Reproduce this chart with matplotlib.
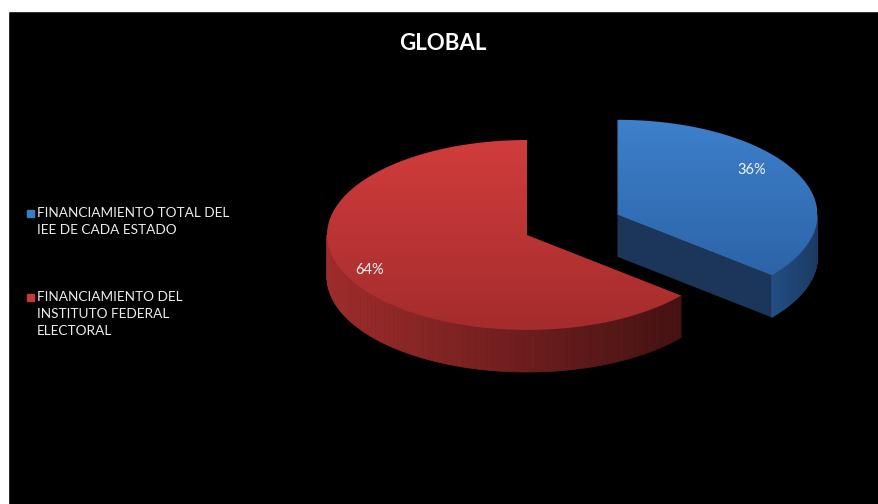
import numpy as np
import matplotlib.pyplot as plt
from matplotlib.patches import Polygon, Rectangle
from matplotlib.colors import to_rgb

# data
labels = ['FINANCIAMIENTO TOTAL DEL\nIEE DE CADA ESTADO',
          'FINANCIAMIENTO DEL\nINSTITUTO FEDERAL\nELECTORAL']
values = [36, 64]
explode = [0.5, 0.0]

# colours: top face (upper, lower), outer side (left, right), cut face
top_cols = [('#3d80cc', '#2d64a8'), ('#d13c3c', '#a52c2c')]
side_cols = [('#244f86', '#1b3a62'), ('#a02c2c', '#451212')]
cut_cols = ['#1c3659', '#3a1010']
legend_cols = ['#3b7bc6', '#c83838']

plt.rcParams['font.family'] = ['Lato', 'DejaVu Sans']

fig = plt.figure(figsize=(8.79, 5.04), dpi=100)
fig.patch.set_facecolor('black')
ax = fig.add_axes([0, 0, 1, 1])
ax.set_xlim(0, 879)
ax.set_ylim(504, 0)
ax.axis('off')
# white margins at top and left
ax.add_patch(Rectangle((-10, -10), 900, 21, color='white', zorder=0, clip_on=False))
ax.add_patch(Rectangle((-10, -10), 18, 530, color='white', zorder=0, clip_on=False))

# pie geometry in pixels
cx, cy = 527, 235
rx, ry = 200, 95
depth = 42


def pt(x0, y0, a, r=1.0):
    a = np.radians(a)
    return x0 + r * rx * np.cos(a), y0 - r * ry * np.sin(a)


def mix(c1, c2, t):
    c1, c2 = np.array(to_rgb(c1)), np.array(to_rgb(c2))
    return tuple(c1 + (c2 - c1) * t)


def grad_fill(poly, c_top, c_bot, z):
    xs, ys = poly[:, 0], poly[:, 1]
    g = np.linspace(0, 1, 64)[:, None, None]
    img = np.array(to_rgb(c_top)) * (1 - g) + np.array(to_rgb(c_bot)) * g
    img = np.repeat(img, 2, axis=1)
    p = Polygon(poly, closed=True, facecolor='none', edgecolor='none')
    ax.add_patch(p)
    im = ax.imshow(img, extent=[xs.min(), xs.max(), ys.max(), ys.min()],
                   aspect='auto', zorder=z, interpolation='bilinear')
    im.set_clip_path(p)


start = 90.0
slices = []
for i, v in enumerate(values):
    end = start - 360.0 * v / sum(values)
    mid = (start + end) / 2
    ox = explode[i] * rx * np.cos(np.radians(mid))
    oy = -explode[i] * ry * np.sin(np.radians(mid))
    slices.append((i, end, start, mid, cx + ox, cy + oy))
    start = end

# draw order: red (back) first then blue
for i, a0, a1, mid, x0, y0 in sorted(slices, key=lambda s: -s[0]):
    # cut face on the start side (visible for blue)
    if i == 0:
        px, py = pt(x0, y0, a0)
        face = np.array([[x0, y0], [px, py], [px, py + depth], [x0, y0 + depth]])
        ax.add_patch(Polygon(face, closed=True, facecolor=cut_cols[i],
                             edgecolor='none', zorder=2))
    # outer side, only the front half
    lo, hi = a0 % 360, a1 % 360
    if hi <= lo:
        hi += 360
    s0, s1 = max(lo, 180), min(hi, 360)
    if s1 > s0:
        angs = np.linspace(s0, s1, 80)
        xs_all = [pt(x0, y0, a)[0] for a in angs]
        xmin, xmax = min(xs_all), max(xs_all)
        for a, b in zip(angs[:-1], angs[1:]):
            p1 = pt(x0, y0, a)
            p2 = pt(x0, y0, b)
            t = ((p1[0] + p2[0]) / 2 - xmin) / max(xmax - xmin, 1)
            c = mix(side_cols[i][0], side_cols[i][1], t)
            q = np.array([p1, p2, (p2[0], p2[1] + depth), (p1[0], p1[1] + depth)])
            ax.add_patch(Polygon(q, closed=True, facecolor=c, edgecolor=c,
                                 linewidth=0.6, zorder=3))
    # top face
    angs = np.linspace(a0, a1, 150)
    top = np.array([[x0, y0]] + [pt(x0, y0, a) for a in angs])
    grad_fill(top, top_cols[i][0], top_cols[i][1], 4)
    # percentage label
    r_lab = 0.82 if i == 0 else 0.87
    a_lab = mid + 10 if i == 0 else mid
    lx, ly = pt(x0, y0, a_lab, r_lab)
    ax.text(lx, ly, '%d%%' % values[i], color='#f2f2f2', fontsize=10.5,
            ha='center', va='center', zorder=6)

ax.text(443, 44, 'GLOBAL', color='white', fontsize=16, fontweight='bold',
        ha='center', va='center', zorder=6)

# legend
leg_y = [213, 297]
for i, lab in enumerate(labels):
    ax.add_patch(Rectangle((27, leg_y[i] - 3.5), 7, 7, color=legend_cols[i], zorder=6))
    ax.text(37, leg_y[i] - 6, lab, color='#ececec', fontsize=9.8, ha='left',
            va='top', linespacing=1.5, zorder=6)

fig.savefig('out.png', dpi=100, facecolor=fig.get_facecolor())
